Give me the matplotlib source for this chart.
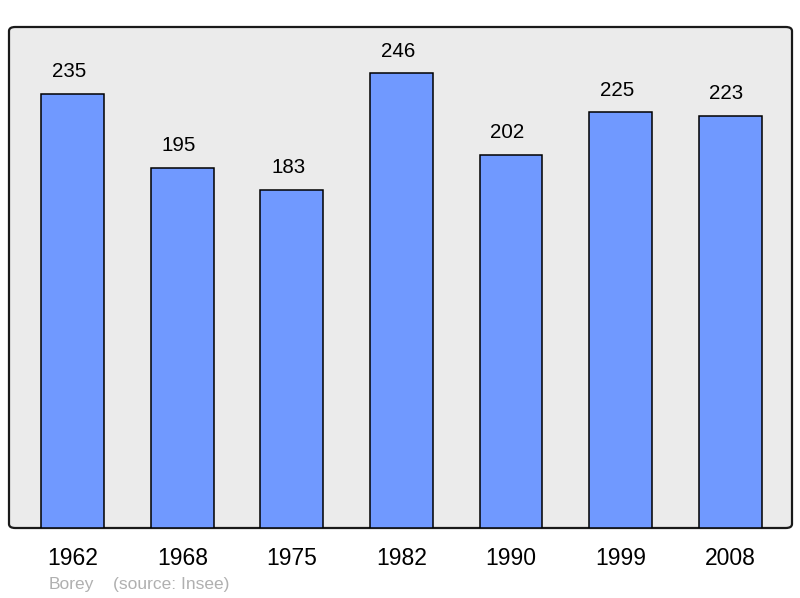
import matplotlib
matplotlib.use("Agg")
import matplotlib.pyplot as plt
from matplotlib.patches import FancyBboxPatch

plt.rcParams['font.family'] = ['Liberation Sans', 'DejaVu Sans']

years = ['1962', '1968', '1975', '1982', '1990', '1999', '2008']
population = [235, 195, 183, 246, 202, 225, 223]

fig = plt.figure(figsize=(8, 5.98), dpi=100)
ax = fig.add_axes([9/800, 70/598, 783/800, 501/598])
ax.set_facecolor('none')
for s in ax.spines.values():
    s.set_visible(False)

# rounded frame with grey background
frame = FancyBboxPatch((0, 0), 1, 1, boxstyle="round,pad=0,rounding_size=0.008",
                       transform=ax.transAxes, facecolor='#ebebeb',
                       edgecolor='#1a1a1a', linewidth=1.6, clip_on=False, zorder=0)
ax.add_patch(frame)

x = range(len(years))
bars = ax.bar(x, population, width=0.575, color='#7099ff', edgecolor='black',
              linewidth=1.1, zorder=2)
for xi, v in zip(x, population):
    ax.annotate(str(v), (xi, v), xytext=(-2.5, 9), textcoords='offset points',
                ha='center', va='bottom', fontsize=14.8)

ax.set_xlim(-0.584, 6.566)
ax.set_ylim(0, 271)
ax.set_yticks([])
ax.set_xticks(list(x))
ax.set_xticklabels(years, fontsize=16.5)
ax.tick_params(axis='x', length=0, pad=14)

fig.text(49/800, 1 - 584/598, 'Borey', color='#b0b0b0', fontsize=12.5, va='center')
fig.text(113/800, 1 - 584/598, '(source: Insee)', color='#b0b0b0', fontsize=12.5, va='center')

fig.savefig('out.png', dpi=100)
